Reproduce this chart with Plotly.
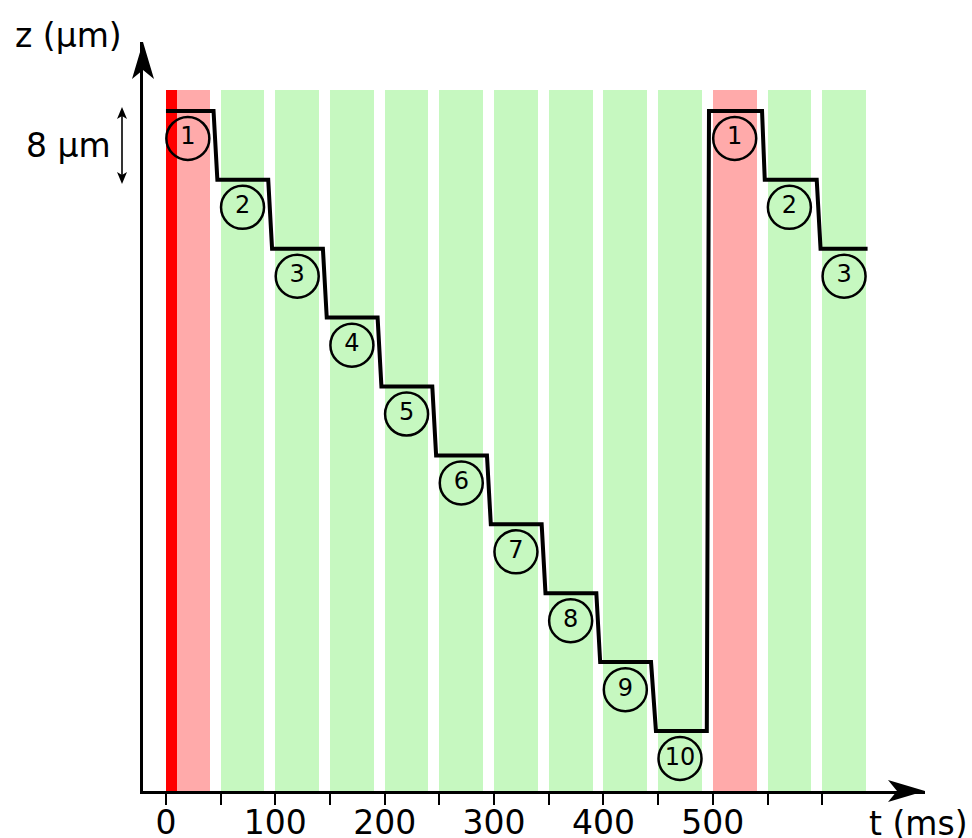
import plotly.graph_objects as go

# ---------------- data ----------------
# exposure slots (ms): each slot starts every 50 ms and lasts 40 ms
slot_start = [0, 50, 100, 150, 200, 250, 300, 350, 400, 450, 500, 550, 600]
slot_len = 40
slot_phase = ["reset", "scan", "scan", "scan", "scan", "scan", "scan",
              "scan", "scan", "scan", "reset", "scan", "scan"]
flash_start = 0      # red stripe at start (ms)
flash_len = 10
slot_top = 74.4      # top of shaded slots (µm)

# focal plane trajectory z(t)
stair_t = [0, 43.5, 47, 93.5, 97, 143.5, 147, 193.5, 197, 243.5, 247, 293.5,
           297, 343.5, 347, 393.5, 397, 443.5, 448, 494.5, 496.5, 545, 547.5,
           595, 598.5, 641.5]
stair_z = [72, 72, 64, 64, 56, 56, 48, 48, 40, 40, 32, 32, 24, 24, 16, 16,
           8, 8, 0, 0, 72, 72, 64, 64, 56, 56]

# plane labels (circled numbers)
plane_label = ["1", "2", "3", "4", "5", "6", "7", "8", "9", "10", "1", "2", "3"]
plane_z = [72, 64, 56, 48, 40, 32, 24, 16, 8, 0, 72, 64, 56]
label_offset = 3.2

tick_vals = [0, 50, 100, 150, 200, 250, 300, 350, 400, 450, 500, 550, 600]
tick_text = ["0", "", "100", "", "200", "", "300", "", "400", "", "500", "", ""]

X_RANGE = [-21, 694]
Y_RANGE = [-6.97, 80.0]

# ---------------- layout helpers ----------------
W, H = 972, 838
L, R, T, B = 143, 47, 42, 47
PW, PH = W - L - R, H - T - B


def px(x):
    return (x - L) / PW


def py(y):
    return (H - B - y) / PH


PINK = "#ffaaaa"
GREEN = "#c6f8c0"
RED = "#ff0000"
FONT = "DejaVu Sans"

fig = go.Figure()

ybase = Y_RANGE[0]
for phase, color in (("reset", PINK), ("scan", GREEN)):
    xs = [s + slot_len / 2 for s, p in zip(slot_start, slot_phase) if p == phase]
    fig.add_trace(go.Bar(
        x=xs, y=[slot_top - ybase] * len(xs), base=[ybase] * len(xs),
        width=[slot_len] * len(xs), marker=dict(color=color, line=dict(width=0)),
        showlegend=False, hoverinfo="skip"))

fig.add_trace(go.Bar(
    x=[flash_start + flash_len / 2], y=[slot_top - ybase], base=[ybase],
    width=[flash_len], marker=dict(color=RED, line=dict(width=0)),
    showlegend=False, hoverinfo="skip"))

fig.add_trace(go.Scatter(
    x=stair_t, y=stair_z, mode="lines",
    line=dict(color="black", width=4), showlegend=False, hoverinfo="skip"))

fig.add_trace(go.Scatter(
    x=[s + slot_len / 2 for s in slot_start],
    y=[z - label_offset for z in plane_z],
    mode="markers+text", text=plane_label, textposition="middle center",
    textfont=dict(family=FONT, size=24, color="black"),
    marker=dict(symbol="circle", size=43, color="rgba(0,0,0,0)",
                line=dict(color="black", width=2.5)),
    showlegend=False, hoverinfo="skip", cliponaxis=False))

fig.update_layout(
    width=W, height=H, margin=dict(l=L, r=R, t=T, b=B, autoexpand=False),
    paper_bgcolor="white", plot_bgcolor="white",
    barmode="overlay", bargap=0,
    font=dict(family=FONT, color="black"),
    xaxis=dict(range=X_RANGE, showgrid=False, zeroline=False, automargin=False,
               showline=True, linecolor="black", linewidth=2.5,
               ticks="outside", ticklen=11, tickwidth=2, tickcolor="black",
               tickvals=tick_vals, ticktext=tick_text, ticklabelstandoff=-10,
               tickfont=dict(family=FONT, size=33, color="black")),
    yaxis=dict(range=Y_RANGE, showgrid=False, zeroline=False, automargin=False,
               showline=True, linecolor="black", linewidth=2.5,
               showticklabels=False, ticks=""),
)

# axis arrowheads (stealth style), sized in pixels
fig.add_shape(type="path", xref="paper", yref="paper",
              xsizemode="pixel", ysizemode="pixel", xanchor=1, yanchor=0,
              path="M 0 0 L -37 11 L -28 0 L -37 -11 Z",
              fillcolor="black", line=dict(width=0))
fig.add_shape(type="path", xref="paper", yref="paper",
              xsizemode="pixel", ysizemode="pixel", xanchor=0, yanchor=1,
              path="M 0 0 L 11 -37 L 0 -28 L -11 -37 Z",
              fillcolor="black", line=dict(width=0))

# 8 µm scale double arrow
fig.add_shape(type="line", xref="paper", yref="paper",
              x0=px(122), x1=px(122), y0=py(110), y1=py(181),
              line=dict(color="black", width=1.6))
fig.add_shape(type="path", xref="paper", yref="paper",
              xsizemode="pixel", ysizemode="pixel", xanchor=px(122), yanchor=py(107),
              path="M 0 0 L -5 -12 L 0 -9 L 5 -12 Z",
              fillcolor="black", line=dict(width=0))
fig.add_shape(type="path", xref="paper", yref="paper",
              xsizemode="pixel", ysizemode="pixel", xanchor=px(122), yanchor=py(184),
              path="M 0 0 L -5 12 L 0 9 L 5 12 Z",
              fillcolor="black", line=dict(width=0))

for text, x, y in (("z (µm)", 68, 35), ("8 µm", 68, 145), ("t (ms)", 918, 823)):
    fig.add_annotation(text=text, x=px(x), y=py(y), xref="paper", yref="paper",
                       showarrow=False, xanchor="center", yanchor="middle",
                       font=dict(family=FONT, size=33, color="black"))

fig.write_html(
    "out.html",
    config={"displayModeBar": False},
    post_script="document.body.style.margin='0';document.body.style.overflow='hidden';",
)
